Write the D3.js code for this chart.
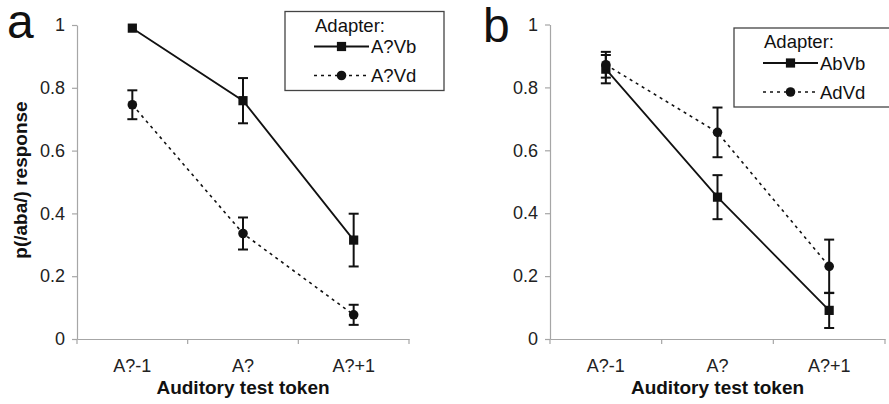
<!DOCTYPE html>
<html>
<head>
<meta charset="utf-8">
<script src="https://cdn.jsdelivr.net/npm/d3@7"></script>
<style>
  body { margin: 0; background: #fff; }
  svg { font-family: 'Liberation Sans', Arial, sans-serif; }
  .axis path, .axis line { stroke: #a6a6a6; stroke-width: 1.2; }
  .axis text { fill: #222; font-size: 18px; }
  .axis-title { font-size: 19px; font-weight: bold; fill: #111; }
  .legend text { font-size: 18.5px; fill: #111; }
</style>
</head>
<body>
<svg id="chart" width="889" height="404"></svg>
<script>
// Data
const tokens = ['A?-1', 'A?', 'A?+1'];
const yTicks = [0, 0.2, 0.4, 0.6, 0.8, 1];

// panel a
const aNames = ['A?Vb', 'A?Vd'];
const aVbMean = [0.990, 0.759, 0.315];
const aVbErr = [0, 0.072, 0.084];
const aVdMean = [0.746, 0.336, 0.077];
const aVdErr = [0.046, 0.051, 0.032];

// panel b
const bNames = ['AbVb', 'AdVd'];
const bVbMean = [0.858, 0.451, 0.091];
const bVbErr = [0.045, 0.070, 0.056];
const bVdMean = [0.872, 0.657, 0.231];
const bVdErr = [0.041, 0.079, 0.085];

const svg = d3.select('#chart');

function drawPanel(cfg) {
  const x = d3.scaleBand().domain(tokens).range([cfg.left, cfg.right]).padding(0);
  const y = d3.scaleLinear().domain([0, 1]).range([cfg.bottom, cfg.top]);

  const g = svg.append('g');

  // y axis
  g.append('g')
      .attr('class', 'axis y-axis')
      .attr('transform', `translate(${cfg.left},0)`)
      .call(d3.axisLeft(y).tickValues(yTicks).tickSize(5).tickSizeOuter(0).tickPadding(7)
        .tickFormat(d => d3.format('~g')(d)));

  // x axis: labels at band centres, ticks at band edges
  const xAxisG = g.append('g')
      .attr('class', 'axis x-axis')
      .attr('transform', `translate(0,${cfg.bottom})`)
      .call(d3.axisBottom(x).tickSize(0).tickSizeOuter(0).tickPadding(20));
  const edges = tokens.map(d => x(d)).concat([x(tokens[tokens.length - 1]) + x.bandwidth()]);
  xAxisG.selectAll('.edge-tick')
    .data(edges)
    .enter().append('line')
      .attr('class', 'edge-tick')
      .attr('x1', d => d).attr('x2', d => d)
      .attr('y1', 0).attr('y2', 5);

  // axis titles
  svg.append('text')
      .attr('class', 'axis-title')
      .attr('x', (cfg.left + cfg.right) / 2)
      .attr('y', 394)
      .attr('text-anchor', 'middle')
      .text('Auditory test token');

  if (cfg.yTitle) {
    svg.append('text')
        .attr('class', 'axis-title')
        .attr('transform', `translate(27,180) rotate(-90)`)
        .attr('text-anchor', 'middle')
        .text(cfg.yTitle);
  }

  // panel letter
  svg.append('text')
      .attr('x', cfg.letterX)
      .attr('y', cfg.letterY)
      .style('font-size', '48px')
      .attr('fill', '#111')
      .text(cfg.letter);

  const cx = d => x(d) + x.bandwidth() / 2;

  cfg.series.forEach(s => {
    const pts = tokens.map((t, i) => ({t: t, v: s.mean[i], e: s.err[i]}));

    // error bars
    const eb = g.append('g').attr('stroke', '#111').attr('stroke-width', 2);
    pts.filter(p => p.e > 0).forEach(p => {
      eb.append('line')
          .attr('x1', cx(p.t)).attr('x2', cx(p.t))
          .attr('y1', y(p.v - p.e)).attr('y2', y(p.v + p.e));
      [p.v - p.e, p.v + p.e].forEach(v => {
        eb.append('line')
            .attr('x1', cx(p.t) - 5).attr('x2', cx(p.t) + 5)
            .attr('y1', y(v)).attr('y2', y(v));
      });
    });

    // line
    g.append('path')
        .datum(pts)
        .attr('fill', 'none')
        .attr('stroke', '#111')
        .attr('stroke-width', s.dashed ? 1.6 : 1.8)
        .attr('stroke-dasharray', s.dashed ? '3,4' : null)
        .attr('d', d3.line().x(d => cx(d.t)).y(d => y(d.v)));

    // markers
    drawMarkers(g, pts, s.shape, cx, y);
  });

  // legend
  const lg = svg.append('g').attr('class', 'legend');
  lg.append('rect')
      .attr('x', cfg.legend.x).attr('y', cfg.legend.y)
      .attr('width', cfg.legend.w).attr('height', 79)
      .attr('fill', '#fff').attr('stroke', '#444').attr('stroke-width', 1.3);
  lg.append('text')
      .attr('x', cfg.legend.x + 30).attr('y', cfg.legend.y + 20)
      .text('Adapter:');
  cfg.series.forEach((s, i) => {
    const ry = cfg.legend.y + 35 + i * 29;
    const lx0 = cfg.legend.x + 29, lx1 = cfg.legend.x + 84;
    lg.append('line')
        .attr('x1', lx0).attr('x2', lx1)
        .attr('y1', ry).attr('y2', ry)
        .attr('stroke', '#111')
        .attr('stroke-width', s.dashed ? 1.6 : 1.8)
        .attr('stroke-dasharray', s.dashed ? '3,4' : null);
    const m = {t: 'k', v: ry};
    drawMarkers(lg, [m], s.shape, () => (lx0 + lx1) / 2, v => v);
    lg.append('text')
        .attr('x', lx1 + 2).attr('y', ry)
        .attr('dy', '0.36em')
        .text(s.name);
  });
}

function drawMarkers(g, pts, shape, cx, y) {
  if (shape === 'square') {
    g.selectAll(null).data(pts).enter().append('rect')
        .attr('x', d => cx(d.t) - 4.6).attr('y', d => y(d.v) - 4.6)
        .attr('width', 9.2).attr('height', 9.2)
        .attr('fill', '#111');
  } else {
    g.selectAll(null).data(pts).enter().append('circle')
        .attr('cx', d => cx(d.t)).attr('cy', d => y(d.v))
        .attr('r', 4.8)
        .attr('fill', '#111');
  }
}

drawPanel({
  left: 77, right: 409, top: 25, bottom: 339,
  letter: 'a', letterX: 7, letterY: 38,
  yTitle: 'p(/aba/) response',
  legend: {x: 285, y: 11.5, w: 159},
  series: [
    {name: aNames[0], mean: aVbMean, err: aVbErr, shape: 'square', dashed: false},
    {name: aNames[1], mean: aVdMean, err: aVdErr, shape: 'circle', dashed: true}
  ]
});

drawPanel({
  left: 550, right: 885, top: 24.5, bottom: 339,
  letter: 'b', letterX: 483, letterY: 42,
  yTitle: null,
  legend: {x: 734, y: 28, w: 170},
  series: [
    {name: bNames[0], mean: bVbMean, err: bVbErr, shape: 'square', dashed: false},
    {name: bNames[1], mean: bVdMean, err: bVdErr, shape: 'circle', dashed: true}
  ]
});
</script>
</body>
</html>
